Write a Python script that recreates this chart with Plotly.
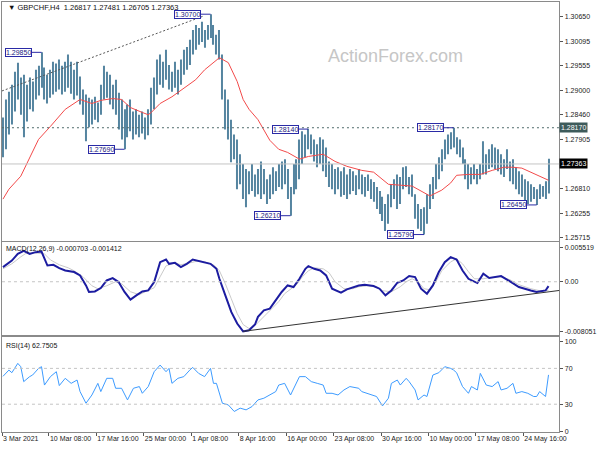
import plotly.graph_objects as go

# ---------------- data ----------------
bar_high = [1.2840, 1.2880, 1.2897, 1.2913, 1.2942, 1.2962, 1.2929, 1.2935, 1.2913, 1.2929,
            1.2920, 1.2946, 1.2955, 1.2985, 1.2951, 1.2935, 1.2946, 1.2964, 1.2960, 1.2969,
            1.2955, 1.2964, 1.2980, 1.2964, 1.2946, 1.2964, 1.2931, 1.2902, 1.2891, 1.2884,
            1.2880, 1.2886, 1.2873, 1.2913, 1.2955, 1.2942, 1.2935, 1.2913, 1.2924, 1.2895,
            1.2880, 1.2858, 1.2869, 1.2880, 1.2853, 1.2858, 1.2846, 1.2853, 1.2840, 1.2858,
            1.2906, 1.2929, 1.2969, 1.2980, 1.2964, 1.2991, 1.2957, 1.2942, 1.2964, 1.2946,
            1.2969, 1.2991, 1.2997, 1.3013, 1.3035, 1.3046, 1.3039, 1.3053, 1.3035, 1.3046,
            1.3070, 1.3046, 1.3024, 1.3035, 1.2980, 1.2902, 1.2880, 1.2835, 1.2802, 1.2791,
            1.2758, 1.2736, 1.2725, 1.2720, 1.2736, 1.2713, 1.2725, 1.2742, 1.2725, 1.2702,
            1.2713, 1.2729, 1.2720, 1.2736, 1.2742, 1.2747, 1.2725, 1.2685, 1.2736, 1.2747,
            1.2791, 1.2809, 1.2802, 1.2814, 1.2802, 1.2791, 1.2780, 1.2796, 1.2791, 1.2773,
            1.2742, 1.2736, 1.2725, 1.2729, 1.2720, 1.2729, 1.2713, 1.2725, 1.2720, 1.2711,
            1.2725, 1.2713, 1.2707, 1.2713, 1.2702, 1.2696, 1.2685, 1.2676, 1.2663, 1.2647,
            1.2669, 1.2691, 1.2702, 1.2713, 1.2707, 1.2729, 1.2731, 1.2707, 1.2713, 1.2669,
            1.2647, 1.2636, 1.2640, 1.2669, 1.2691, 1.2707, 1.2736, 1.2751, 1.2769, 1.2791,
            1.2802, 1.2807, 1.2817, 1.2796, 1.2791, 1.2773, 1.2747, 1.2736, 1.2729, 1.2736,
            1.2725, 1.2736, 1.2787, 1.2758, 1.2769, 1.2780, 1.2773, 1.2769, 1.2758, 1.2747,
            1.2769, 1.2742, 1.2747, 1.2729, 1.2720, 1.2713, 1.2702, 1.2698, 1.2691, 1.2685,
            1.2680, 1.2691, 1.2687, 1.2698, 1.27481]
bar_low = [1.2751, 1.2769, 1.2802, 1.2824, 1.2853, 1.2880, 1.2846, 1.2796, 1.2831, 1.2858,
           1.2853, 1.2880, 1.2889, 1.2906, 1.2880, 1.2871, 1.2884, 1.2891, 1.2897, 1.2902,
           1.2891, 1.2897, 1.2906, 1.2893, 1.2880, 1.2889, 1.2869, 1.2846, 1.2787, 1.2818,
           1.2824, 1.2835, 1.2829, 1.2846, 1.2880, 1.2884, 1.2869, 1.2858, 1.2846, 1.2813,
           1.2791, 1.2769, 1.2796, 1.2809, 1.2791, 1.2802, 1.2796, 1.2804, 1.2791, 1.2800,
           1.2824, 1.2858, 1.2891, 1.2913, 1.2906, 1.2924, 1.2902, 1.2897, 1.2906, 1.2891,
           1.2913, 1.2935, 1.2946, 1.2957, 1.2980, 1.2991, 1.3002, 1.3008, 1.2995, 1.3013,
           1.3017, 1.3002, 1.2980, 1.2969, 1.2880, 1.2813, 1.2791, 1.2740, 1.2747, 1.2680,
           1.2691, 1.2658, 1.2640, 1.2669, 1.2676, 1.2663, 1.2669, 1.2658, 1.2669, 1.2647,
           1.2658, 1.2669, 1.2676, 1.2685, 1.2680, 1.2691, 1.2658, 1.2621, 1.2669, 1.2680,
           1.2702, 1.2736, 1.2751, 1.2769, 1.2758, 1.2742, 1.2729, 1.2736, 1.2720, 1.2707,
           1.2685, 1.2680, 1.2669, 1.2680, 1.2663, 1.2667, 1.2658, 1.2669, 1.2676, 1.2667,
           1.2680, 1.2669, 1.2663, 1.2676, 1.2658, 1.2652, 1.2636, 1.2625, 1.2609, 1.2587,
           1.2603, 1.2640, 1.2658, 1.2636, 1.2647, 1.2680, 1.2685, 1.2669, 1.2663, 1.2614,
           1.2592, 1.2587, 1.2579, 1.2603, 1.2636, 1.2658, 1.2680, 1.2702, 1.2720, 1.2747,
           1.2758, 1.2769, 1.2773, 1.2758, 1.2751, 1.2736, 1.2702, 1.2680, 1.2691, 1.2702,
           1.2691, 1.2702, 1.2713, 1.2713, 1.2725, 1.2729, 1.2725, 1.2720, 1.2713, 1.2707,
           1.2725, 1.2698, 1.2691, 1.2680, 1.2669, 1.2663, 1.2654, 1.2647, 1.2652, 1.2658,
           1.2645, 1.2658, 1.2663, 1.2658, 1.26705]

ma_idx = [0, 2, 6, 9, 12, 16, 18, 21, 26, 30, 33, 37, 40, 43, 47, 49, 50, 53, 57, 61, 65, 68,
          71, 73, 76, 79, 81, 83, 86, 90, 93, 96, 100, 103, 108, 112, 116, 121, 125, 127, 130,
          134, 138, 141, 144, 148, 151, 153, 157, 161, 165, 169, 172, 175, 178, 181, 184]
ma_val = [1.2658, 1.2680, 1.2709, 1.2751, 1.2791, 1.2820, 1.2835, 1.2858, 1.2880, 1.2871,
          1.2878, 1.2882, 1.2880, 1.2862, 1.2851, 1.2846, 1.2851, 1.2871, 1.2886, 1.2906,
          1.2924, 1.2946, 1.2962, 1.2973, 1.2962, 1.2920, 1.2880, 1.2858, 1.2835, 1.2789,
          1.2769, 1.2762, 1.2747, 1.2753, 1.2758, 1.2742, 1.2731, 1.2722, 1.2718, 1.2707,
          1.2691, 1.2689, 1.2687, 1.2676, 1.2665, 1.2678, 1.2694, 1.2711, 1.2713, 1.2713,
          1.2722, 1.2729, 1.2729, 1.2727, 1.2718, 1.2709, 1.2700]

macd_idx = [0, 3, 5, 7, 9, 11, 13, 15, 17, 19, 21, 24, 26, 28, 29, 31, 33, 35, 37, 39, 41, 43,
            45, 47, 49, 51, 53, 55, 56, 58, 60, 62, 64, 67, 70, 72, 73, 75, 77, 79, 81, 83, 85,
            86, 88, 90, 92, 94, 96, 98, 100, 102, 103, 105, 107, 109, 111, 114, 116, 120, 122,
            125, 127, 129, 131, 133, 135, 137, 139, 141, 143, 145, 147, 149, 151, 153, 155, 157,
            160, 162, 164, 168, 171, 174, 178, 180, 183, 184]
macd_val = [0.00237, 0.00344, 0.00452, 0.00500, 0.00452, 0.00480, 0.00489, 0.00263, 0.00275,
            0.00221, 0.00182, 0.00157, 0.00102, -0.00060, -0.00166, -0.00157, -0.00102, 0.00021,
            0.00060, -0.00005, -0.00166, -0.00291, -0.00221, -0.00157, -0.00141, -0.00005,
            0.00318, 0.00360, 0.00291, 0.00307, 0.00237, 0.00291, 0.00360, 0.00328, 0.00291,
            0.00210, 0.00048, -0.00221, -0.00489, -0.00678, -0.00805, -0.00787, -0.00694,
            -0.00570, -0.00463, -0.00436, -0.00302, -0.00166, -0.00060, -0.00086, 0.00048,
            0.00210, 0.00254, 0.00210, 0.00182, 0.00102, -0.00113, -0.00178, -0.00124, -0.00060,
            -0.00048, -0.00069, -0.00113, -0.00221, -0.00141, -0.00016, 0.00021, 0.00092, 0.00076,
            -0.00113, -0.00194, -0.00060, 0.00157, 0.00318, 0.00399, 0.00360, 0.00182, 0.00048,
            -0.00021, 0.00129, 0.00060, 0.00092, 0.00005, -0.00086, -0.00141, -0.00166, -0.00141,
            -0.000703]

signal_idx = [0, 3, 6, 8, 11, 14, 16, 19, 22, 24, 27, 30, 32, 35, 38, 40, 43, 46, 48, 51, 53,
              55, 58, 60, 63, 66, 68, 71, 73, 75, 77, 79, 81, 83, 85, 87, 89, 91, 93, 95, 97, 99,
              101, 103, 105, 108, 110, 112, 115, 118, 120, 123, 126, 128, 131, 134, 136, 138, 140,
              142, 144, 146, 148, 151, 153, 155, 157, 159, 162, 164, 168, 171, 174, 178, 181, 184]
signal_val = [0.00210, 0.00291, 0.00404, 0.00468, 0.00468, 0.00452, 0.00355, 0.00275, 0.00226,
              0.00178, 0.00081, -0.00065, -0.00113, -0.00065, 0.00000, -0.00032, -0.00162,
              -0.00210, -0.00162, -0.00097, 0.00081, 0.00258, 0.00307, 0.00275, 0.00307, 0.00339,
              0.00323, 0.00275, 0.00178, -0.00032, -0.00275, -0.00517, -0.00694, -0.00759,
              -0.00711, -0.00614, -0.00517, -0.00436, -0.00323, -0.00194, -0.00113, -0.00048,
              0.00081, 0.00178, 0.00226, 0.00210, 0.00145, 0.00000, -0.00113, -0.00113, -0.00081,
              -0.00065, -0.00081, -0.00145, -0.00162, -0.00081, 0.00000, 0.00048, 0.00000,
              -0.00113, -0.00129, 0.00000, 0.00178, 0.00323, 0.00371, 0.00291, 0.00162, 0.00048,
              0.00048, 0.00065, 0.00081, 0.00032, -0.00048, -0.00113, -0.00145, -0.001412]

rsi_idx = [0, 1, 2, 3, 5, 6, 7, 9, 10, 12, 13, 14, 16, 18, 19, 21, 23, 25, 26, 28, 30, 32, 33,
           35, 37, 38, 40, 42, 44, 46, 47, 49, 51, 53, 55, 56, 57, 59, 61, 63, 64, 66, 68, 70,
           71, 72, 74, 76, 78, 80, 82, 84, 86, 88, 90, 92, 93, 95, 97, 99, 100, 102, 104, 106,
           108, 109, 111, 113, 115, 117, 120, 121, 123, 126, 128, 130, 131, 133, 134, 136, 137,
           139, 140, 142, 143, 145, 147, 149, 151, 152, 153, 155, 157, 158, 160, 161, 163, 165,
           167, 168, 170, 172, 173, 175, 177, 179, 180, 181, 183, 184]
rsi_val = [61.1, 64.4, 68.1, 65.2, 75.6, 71.9, 55.2, 60.8, 62.6, 70.0, 71.9, 51.4, 60.8, 66.3,
           50.8, 58.9, 53.3, 57.0, 44.1, 31.1, 40.3, 53.3, 44.1, 58.9, 58.9, 47.8, 47.8, 34.8,
           47.8, 49.7, 42.2, 49.7, 66.3, 73.7, 66.3, 70.0, 53.3, 58.9, 60.8, 68.1, 71.1, 64.4,
           60.8, 70.0, 53.3, 53.3, 31.1, 29.2, 21.9, 25.6, 23.7, 27.4, 34.8, 36.7, 40.3, 44.1,
           51.4, 53.3, 40.3, 53.3, 60.8, 60.8, 55.2, 53.3, 51.4, 42.2, 42.2, 40.3, 45.9, 49.7,
           47.8, 44.1, 42.2, 38.6, 28.1, 36.7, 53.3, 57.0, 51.4, 58.9, 55.2, 45.9, 34.8, 40.3,
           38.6, 62.6, 65.2, 71.9, 70.0, 68.1, 65.2, 49.7, 42.2, 49.7, 45.9, 64.4, 51.4, 49.7,
           55.2, 45.9, 47.8, 53.3, 42.2, 44.1, 42.2, 38.6, 38.6, 44.1, 38.6, 62.7505]

swing_idx = [13, 70, 41, 97, 103, 142, 152, 180]
swing_price = [1.29850, 1.30700, 1.27690, 1.26210, 1.28140, 1.25790, 1.28170, 1.26450]

price_ticks = [1.30650, 1.30095, 1.29555, 1.29000, 1.28460, 1.27905, 1.26810, 1.26255, 1.25715]
macd_ticks = [0.005519, 0.0, -0.008051]
macd_tick_text = ["0.005519", "0.00", "-0.008051"]
rsi_ticks = [100, 70, 30, 0]
date_idx = [-0.3, 15.5, 31.5, 47.5, 63.5, 79.5, 95.5, 111.5, 127.5, 143.5, 159.5, 175.5]
date_labels = ["3 Mar 2021", "10 Mar 08:00", "17 Mar 16:00", "25 Mar 00:00", "1 Apr 08:00",
               "8 Apr 16:00", "16 Apr 00:00", "23 Apr 08:00", "30 Apr 16:00", "10 May 00:00",
               "17 May 08:00", "24 May 16:00"]

bar_open, bar_close = 1.26817, 1.27363
resistance = 1.28170
trend_start = (-0.33, 1.2899)
trend_end = (67.3, 1.3065)
macd_trend_end_val = -0.00141
rsi_last = 62.7505

# ---------------- figure ----------------
FONT = "Tahoma, Liberation Sans, Arial, sans-serif"
W, H = 600, 450
XL, XR = 2 / W, 566 / W
FRAME = "#8a8a8a"
x_range = [-1 / 3, 187.667]
n = len(bar_high)
idx = list(range(n))

fig = go.Figure()
fig.add_trace(go.Bar(x=idx, y=[h - l for h, l in zip(bar_high, bar_low)], base=bar_low,
                     width=0.36, marker=dict(color="#5585a0", line=dict(width=0)),
                     xaxis="x", yaxis="y", hoverinfo="skip"))
fig.add_trace(go.Scatter(x=ma_idx, y=ma_val, mode="lines",
                         line=dict(color="#f24a4a", width=1), xaxis="x", yaxis="y"))
fig.add_trace(go.Scatter(x=signal_idx, y=signal_val, mode="lines",
                         line=dict(color="#c9c9c9", width=1), xaxis="x2", yaxis="y2"))
fig.add_trace(go.Scatter(x=macd_idx, y=macd_val, mode="lines",
                         line=dict(color="#1c1ca0", width=2), xaxis="x2", yaxis="y2"))
fig.add_trace(go.Scatter(x=rsi_idx, y=rsi_val, mode="lines",
                         line=dict(color="#3d9bff", width=1), xaxis="x3", yaxis="y3"))

def xa(anchor, **kw):
    d = dict(domain=[XL, XR], range=x_range, anchor=anchor, showline=True, mirror=True,
             linecolor=FRAME, linewidth=1, showgrid=False, zeroline=False,
             showticklabels=False, ticks="")
    d.update(kw)
    return d

def ya(anchor, dom, rng, vals, texts, **kw):
    d = dict(domain=dom, range=rng, anchor=anchor, side="right", showline=True, mirror=True,
             linecolor=FRAME, linewidth=1, showgrid=False, zeroline=False,
             tickmode="array", tickvals=vals, ticktext=texts, ticks="outside", ticklen=3,
             tickcolor="#555", tickfont=dict(family=FONT, size=7, color="#222"))
    d.update(kw)
    return d

fig.update_layout(
    width=W, height=H, margin=dict(l=0, r=0, t=0, b=0),
    paper_bgcolor="white", plot_bgcolor="white", showlegend=False,
    font=dict(family=FONT, size=7, color="#222"),
    xaxis=xa("y"),
    xaxis2=xa("y2", matches="x"),
    xaxis3=xa("y3", matches="x", showticklabels=True, ticks="outside", ticklen=3,
              tickcolor="#555", tickmode="array", tickvals=date_idx, ticktext=date_labels,
              tickangle=0, ticklabelposition="outside right",
              tickfont=dict(family=FONT, size=7, color="#222")),
    yaxis=ya("x", [1 - 242 / H, 1 - 2 / H], [1.25648, 1.30972], price_ticks,
             ["%.5f" % v for v in price_ticks]),
    yaxis2=ya("x2", [1 - 337 / H, 1 - 243 / H], [-0.00872, 0.00646], macd_ticks, macd_tick_text),
    yaxis3=ya("x3", [1 - 434 / H, 1 - 338 / H], [-1.1, 105.6], rsi_ticks,
              [str(v) for v in rsi_ticks]),
)

# horizontal reference lines
fig.add_shape(type="line", xref="x domain", yref="y", x0=0, x1=1, y0=resistance, y1=resistance,
              line=dict(color="#4f6b6b", width=1, dash="2px,3px"))
fig.add_shape(type="line", xref="x domain", yref="y", x0=0, x1=1, y0=bar_close, y1=bar_close,
              line=dict(color="#c4c4c4", width=1))
fig.add_shape(type="line", xref="x", yref="y", x0=trend_start[0], y0=trend_start[1],
              x1=trend_end[0], y1=trend_end[1], line=dict(color="#555555", width=1, dash="2px,2px"))
fig.add_shape(type="line", xref="x2 domain", yref="y2", x0=0, x1=1, y0=0, y1=0,
              line=dict(color="#c4c4c4", width=1, dash="3px,3px"))
fig.add_shape(type="line", xref="x2", yref="y2", x0=macd_idx[macd_val.index(min(macd_val))],
              y0=min(macd_val), x1=x_range[1], y1=macd_trend_end_val,
              line=dict(color="#333333", width=1))
for lvl in (70, 30):
    fig.add_shape(type="line", xref="x3 domain", yref="y3", x0=0, x1=1, y0=lvl, y1=lvl,
                  line=dict(color="#c4c4c4", width=1, dash="3px,3px"))

# swing labels
for i, p in zip(swing_idx, swing_price):
    fig.add_annotation(x=i, y=p, xref="x", yref="y", text="%.5f" % p, showarrow=True,
                       ax=-23, ay=0, arrowhead=0, arrowwidth=1, arrowcolor="#2a2aa6",
                       bordercolor="#2a2aa6", borderwidth=1, borderpad=0, bgcolor="white",
                       font=dict(family=FONT, size=7, color="#1a1a80"))

# right-side price boxes
fig.add_annotation(x=566 / W, y=resistance, xref="paper", yref="y", xanchor="left",
                   text="%.5f" % resistance, showarrow=False, bgcolor="#3e5b5b",
                   font=dict(family=FONT, size=7, color="white"), borderpad=1)
fig.add_annotation(x=566 / W, y=bar_close, xref="paper", yref="y", xanchor="left",
                   text="%.5f" % bar_close, showarrow=False, bgcolor="black",
                   font=dict(family=FONT, size=7, color="white"), borderpad=1)

# panel titles
fig.add_annotation(x=6 / W, y=1 - 8 / H, xref="paper", yref="paper", xanchor="left",
                   yanchor="middle", showarrow=False,
                   text="▼ GBPCHF,H4  %.5f %.5f %.5f %.5f" % (bar_open, bar_high[-1], bar_low[-1], bar_close),
                   font=dict(family=FONT, size=7.5, color="#111"))
fig.add_annotation(x=4 / W, y=1 - 250 / H, xref="paper", yref="paper", xanchor="left",
                   yanchor="middle", showarrow=False,
                   text="MACD(12,26,9) %.6f %.6f" % (macd_val[-1], signal_val[-1]),
                   font=dict(family=FONT, size=7, color="#111"))
fig.add_annotation(x=4 / W, y=1 - 348 / H, xref="paper", yref="paper", xanchor="left",
                   yanchor="middle", showarrow=False, text="RSI(14) %.4f" % rsi_last,
                   font=dict(family=FONT, size=7, color="#111"))
# watermark
fig.add_annotation(x=400 / W, y=1 - 44 / H, xref="paper", yref="paper", showarrow=False,
                   text="ActionForex.com", font=dict(family="Liberation Sans, Arial", size=18,
                                                     color="#c6c6c6"))

fig.write_html("out.html", config={"displayModeBar": False},
               post_script="document.body.style.margin='0';document.body.style.padding='0';"
                           "document.documentElement.style.overflow='hidden';")
